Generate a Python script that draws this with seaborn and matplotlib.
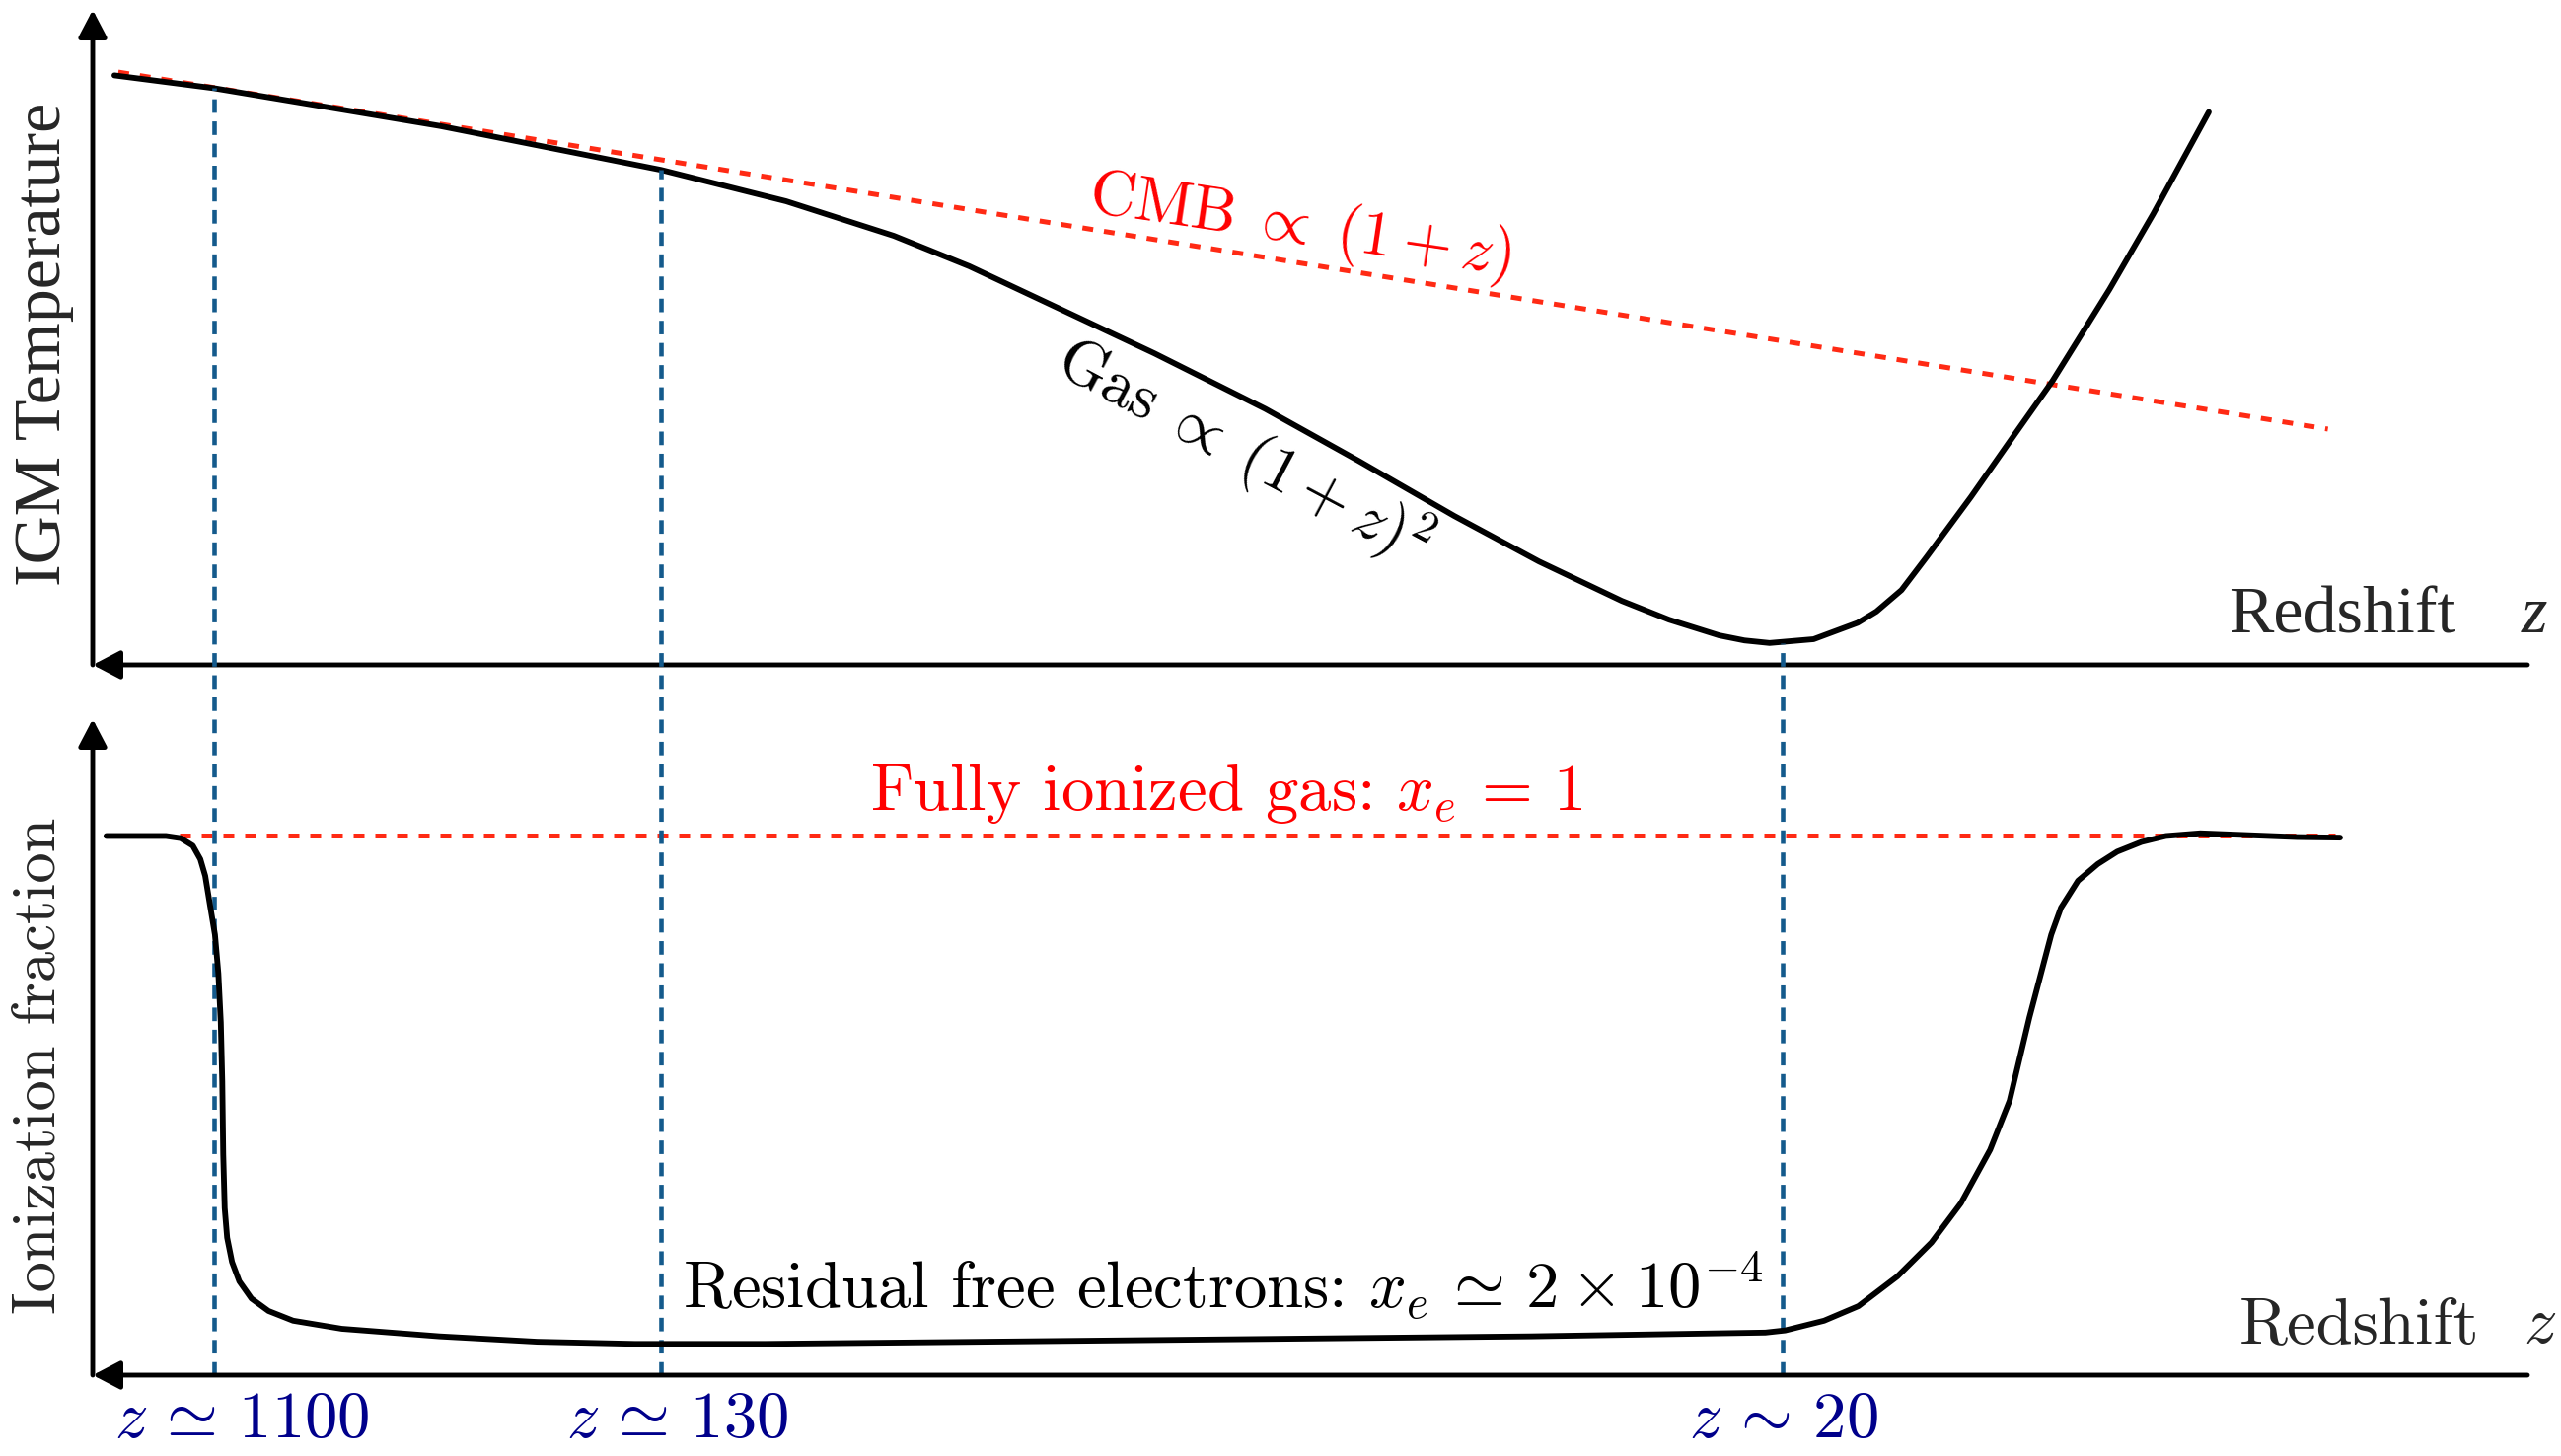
import matplotlib
matplotlib.use("Agg")
import matplotlib.pyplot as plt
import seaborn as sns

# ---------------------------------------------------------------------
# Data (schematic units)
#   position: 0 = y-axis, 100 = right end of the redshift arrow
#   temperature: 0 = redshift axis, 100 = tip of the y arrow
#   ionization: x_e, with 1 = fully ionized
# ---------------------------------------------------------------------
gas_pos = [0.89, 4.98, 14.26, 23.34, 28.48, 32.90, 36.00, 39.12, 43.60, 48.16,
           52.00, 55.92, 59.40, 62.80, 64.74, 66.80, 67.84, 68.87, 70.68,
           72.49, 73.26, 74.29, 75.33, 77.14, 78.95, 80.50, 82.83, 84.63, 86.91]
gas_temp = [90.0, 88.04, 82.28, 75.57, 70.78, 65.51, 60.86, 55.41, 47.57, 39.08,
            31.13, 22.74, 15.78, 9.77, 6.90, 4.50, 3.73, 3.34, 3.92,
            6.42, 8.15, 11.42, 16.51, 25.63, 35.24, 43.40, 57.32, 68.86, 84.40]

cmb_pos = [1.05, 91.8]
cmb_temp = [90.5, 36.0]

xe_pos = [0.56, 3.01, 3.61, 4.11, 4.42, 4.62, 4.82, 5.02, 5.16, 5.26,
          5.32, 5.36, 5.42, 5.52, 5.72, 6.02, 6.52, 7.22, 8.23, 10.23,
          14.24, 18.26, 22.27, 27.64, 59.08, 68.70, 69.51, 70.31, 71.11, 72.52,
          74.12, 75.52, 76.73, 77.93, 78.73, 79.54, 80.44, 80.84, 81.54, 82.35,
          83.15, 84.15, 85.15, 86.56, 90.53, 92.30]
xe_frac = [1.000, 1.000, 0.996, 0.982, 0.957, 0.926, 0.871, 0.817, 0.745, 0.654,
           0.545, 0.409, 0.310, 0.255, 0.210, 0.174, 0.142, 0.119, 0.101, 0.086,
           0.072, 0.062, 0.058, 0.058, 0.072, 0.079, 0.083, 0.092, 0.101, 0.128,
           0.183, 0.246, 0.319, 0.418, 0.509, 0.663, 0.817, 0.867, 0.917, 0.948,
           0.971, 0.989, 1.000, 1.005, 0.998, 0.997]

full_ion_pos = [3.57, 92.1]
full_ion_frac = [1.0, 1.0]

epoch_labels = [r"$z\,\simeq\,1100$", r"$z\,\simeq\,130$", r"$z\,\sim\,20$"]
epoch_pos = [4.98, 23.34, 69.41]
epoch_temp = [88.04, 75.57, 3.34]
epoch_label_pos = [6.12, 23.99, 69.45]

# ---------------------------------------------------------------------
# Style
# ---------------------------------------------------------------------
sns.set_theme(style="white")
plt.rcParams["mathtext.fontset"] = "cm"
plt.rcParams["axes.formatter.use_mathtext"] = True

BLACK = "black"
RED_LINE = "#ff2a14"
RED_TEXT = "#ff0000"
BLUE_LINE = "#145a8c"
NAVY = "#00008b"
CM = "cmr10"
TIMES = "Liberation Serif"
FS = 48

fig = plt.figure(figsize=(25.96, 14.76), dpi=100)
ax_t = fig.add_axes([0.03621, 0.54336, 0.9507, 0.44986])
ax_b = fig.add_axes([0.03621, 0.05556, 0.9507, 0.45054])


def draw_arrows(ax):
    """Axis arrows: y pointing up, redshift pointing left."""
    props = dict(arrowstyle="-|>,head_length=0.42,head_width=0.22",
                 lw=3.5, color=BLACK, shrinkA=0, shrinkB=0, mutation_scale=40)
    ax.annotate("", xy=(0, 1), xytext=(0, 0), xycoords="axes fraction",
                textcoords="axes fraction", arrowprops=props, zorder=5)
    ax.annotate("", xy=(0, 0), xytext=(1, 0), xycoords="axes fraction",
                textcoords="axes fraction", arrowprops=props, zorder=5)


# ---------------------------------------------------------------------
# 1. Temperature panel
# ---------------------------------------------------------------------
sns.lineplot(x=cmb_pos, y=cmb_temp, ax=ax_t, color=RED_LINE, lw=3.6,
             linestyle=(0, (2.2, 2.2)), sort=False, estimator=None, zorder=2)
sns.lineplot(x=gas_pos, y=gas_temp, ax=ax_t, color=BLACK, lw=4.2,
             sort=False, estimator=None, zorder=3)
ax_t.set_xlim(0, 100)
ax_t.set_ylim(0, 100)
ax_t.set_axis_off()
draw_arrows(ax_t)

ax_t.text(49.6, 66.9, r"CMB$\;\propto\;(1+z)$", color=RED_TEXT, family=CM,
          fontsize=46, rotation=-8.5, rotation_mode="anchor",
          ha="center", va="center")
ax_t.text(47.25, 32.4, r"Gas$\;\propto\;(1+z)^2$", color=BLACK, family=CM,
          fontsize=46, rotation=-28, rotation_mode="anchor",
          ha="center", va="center")
ax_t.text(97.04, 4.97, "Redshift", family=TIMES, fontsize=49,
          ha="right", va="baseline")
ax_t.text(99.76, 4.97, "z", family=TIMES, style="italic", fontsize=49,
          ha="left", va="baseline")

# ---------------------------------------------------------------------
# 2. Ionization panel
# ---------------------------------------------------------------------
sns.lineplot(x=full_ion_pos, y=full_ion_frac, ax=ax_b, color=RED_LINE, lw=3.6,
             linestyle=(0, (2.2, 2.2)), sort=False, estimator=None, zorder=2)
sns.lineplot(x=xe_pos, y=xe_frac, ax=ax_b, color=BLACK, lw=4.2,
             sort=False, estimator=None, zorder=3)
ax_b.set_xlim(0, 100)
ax_b.set_ylim(0, 1.2168)
ax_b.set_axis_off()
draw_arrows(ax_b)

ax_b.text(46.56, 1.0485, r"Fully ionized gas: $x_e\,=\,1$", color=RED_TEXT,
          family=CM, fontsize=FS, ha="center", va="baseline")
ax_b.text(24.23, 0.1244,
          r"Residual free electrons: $x_e\,\simeq\,2\:\times\:10^{-4}$",
          color=BLACK, family=CM, fontsize=FS, ha="left", va="baseline")
ax_b.text(88.17, 0.0604, "Redshift", family=CM, fontsize=FS,
          ha="left", va="baseline")
ax_b.text(99.84, 0.0604, r"$z$", fontsize=FS, ha="left", va="baseline")

# ---------------------------------------------------------------------
# 3. Epoch markers running from the gas curve down to the lower axis
# ---------------------------------------------------------------------
inv_b = ax_b.transAxes.inverted()
for pos, temp, lab_pos, label in zip(epoch_pos, epoch_temp, epoch_label_pos,
                                     epoch_labels):
    top = inv_b.transform(ax_t.transData.transform((pos, temp)))[1]
    ax_b.axvline(pos, ymin=0, ymax=top, color=BLUE_LINE, lw=3.3,
                 linestyle=(0, (3.0, 1.9)), clip_on=False, zorder=2.5)
    ax_b.text(lab_pos, -0.1153, label, color=NAVY, fontsize=FS,
              ha="center", va="baseline")

# ---------------------------------------------------------------------
# 4. Axis titles
# ---------------------------------------------------------------------
fig.text(0.01733, 0.7636, "IGM Temperature", family=TIMES, fontsize=49,
         rotation=90, ha="center", va="center")
fig.text(0.0154, 0.2683, "Ionization fraction", family=CM, fontsize=45,
         rotation=90, ha="center", va="center")

fig.savefig("out.png", dpi=100)
